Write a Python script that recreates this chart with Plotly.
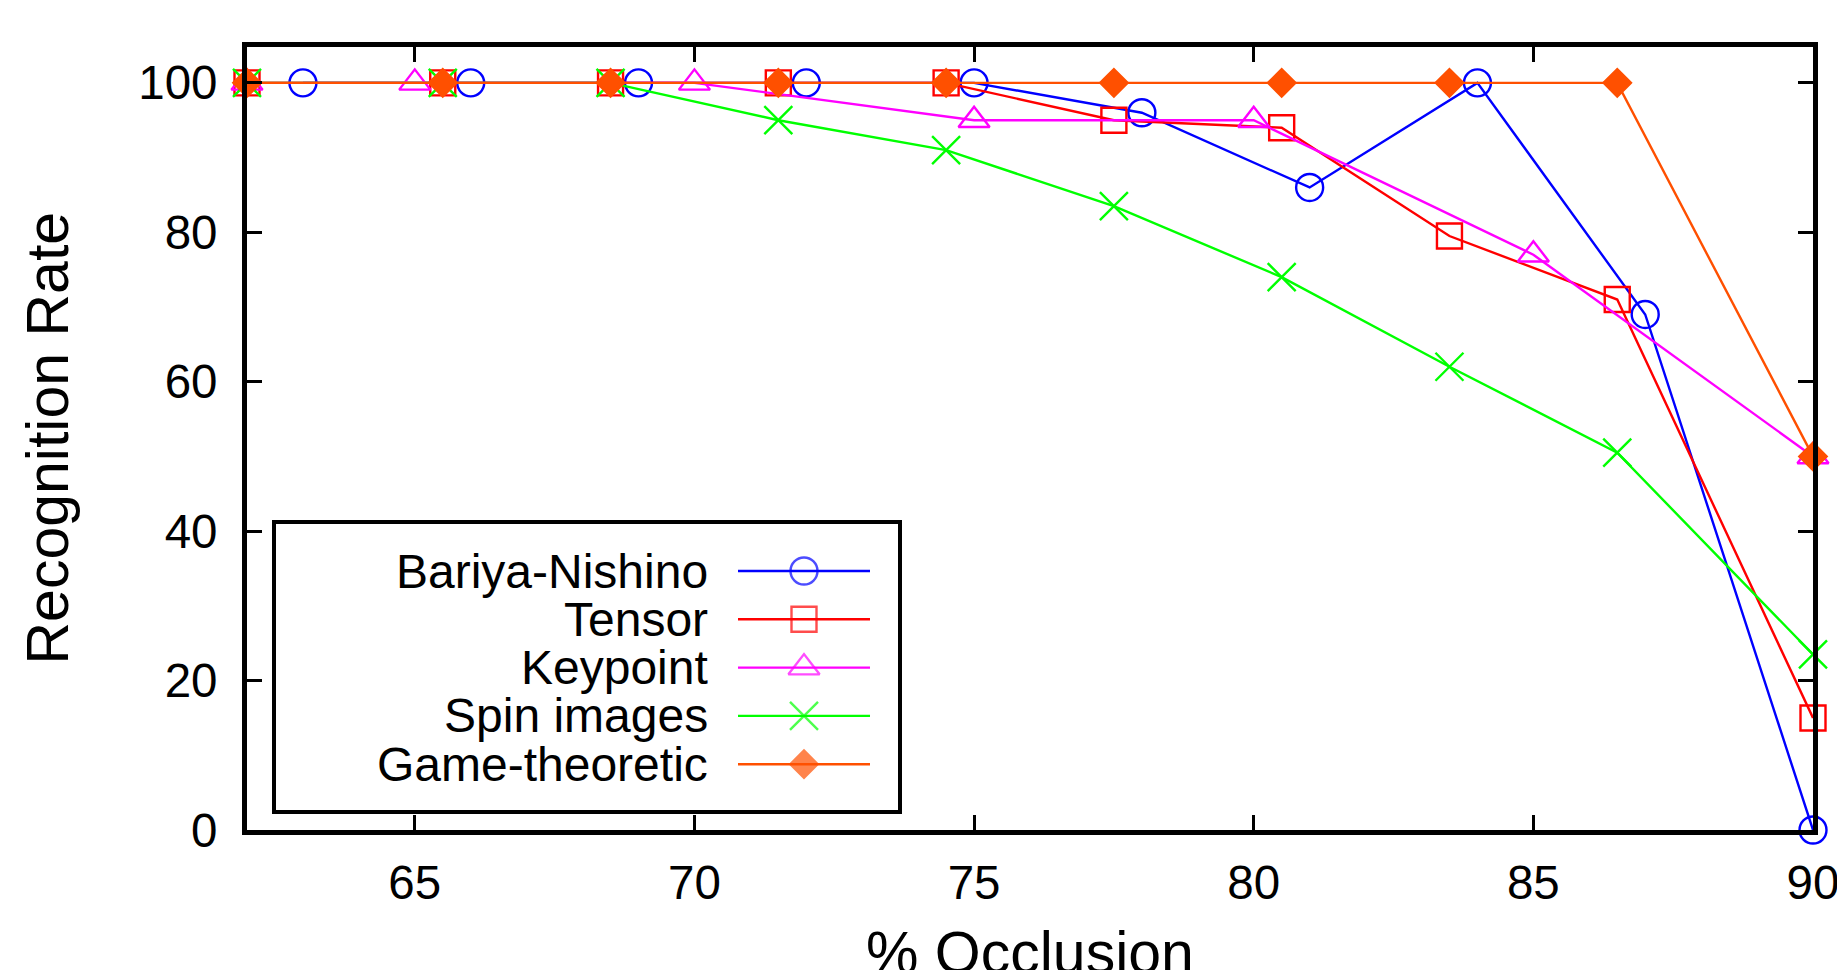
import plotly.graph_objects as go

# ---------------- data ----------------
series_names = ["Bariya-Nishino", "Tensor", "Keypoint", "Spin images", "Game-theoretic"]

x_bariya = [63, 66, 69, 72, 75, 78, 81, 84, 87, 90]
y_bariya = [100, 100, 100, 100, 100, 96, 86, 100, 69, 0]

x_tensor = [62, 65.5, 68.5, 71.5, 74.5, 77.5, 80.5, 83.5, 86.5, 90]
y_tensor = [100, 100, 100, 100, 100, 95, 94, 79.5, 71, 15]

x_keypoint = [62, 65, 70, 75, 80, 85, 90]
y_keypoint = [100, 100, 100, 95, 95, 77, 50]

x_spin = [62, 65.5, 68.5, 71.5, 74.5, 77.5, 80.5, 83.5, 86.5, 90]
y_spin = [100, 100, 100, 95, 91, 83.5, 74, 62, 50.5, 23.5]

x_game = [62, 65.5, 68.5, 71.5, 74.5, 77.5, 80.5, 83.5, 86.5, 90]
y_game = [100, 100, 100, 100, 100, 100, 100, 100, 100, 50]

x_ticks = [65, 70, 75, 80, 85, 90]
y_ticks = [0, 20, 40, 60, 80, 100]

x_title = "% Occlusion"
y_title = "Recognition Rate"

# ---------------- styles ----------------
colors = ["#0000ff", "#ff0000", "#ff00ff", "#00ff00", "#ff5000"]
symbols = ["circle-open", "square-open", "triangle-up-open", "x-thin-open", "diamond"]
sizes = [27, 25, 27, 28, 21]

FONT = "Liberation Sans, Arial, Helvetica, sans-serif"
# page body has an 8px margin; figure sized so it fits the 1845x970 window
OFF = 8
W, H = 1845 - OFF, 970 - OFF
LW = 5
# plot area in window pixels
PL, PR, PT, PB = 247, 1813, 47, 830


def px_x(p):
    return (p - PL) / (PR - PL)


def px_y(p):
    return (PB - p) / (PB - PT)


xs = [x_bariya, x_tensor, x_keypoint, x_spin, x_game]
ys = [y_bariya, y_tensor, y_keypoint, y_spin, y_game]

fig = go.Figure()
for name, x, y, c, s, sz in zip(series_names, xs, ys, colors, symbols, sizes):
    fig.add_trace(go.Scatter(
        x=x, y=y, name=name, mode="lines+markers",
        line=dict(color=c, width=2.4),
        marker=dict(symbol=s, size=sz, color=c, line=dict(color=c, width=2.4)),
        cliponaxis=False, showlegend=False,
    ))

# ---------------- custom legend (text left, sample right) ----------------
leg_box = (274, 522, 900, 812)
row_y0, row_dy = 571, 48.3
text_right = 710
samp_x0, samp_x1 = 738, 870

fig.add_shape(type="rect", xref="paper", yref="paper",
              x0=px_x(leg_box[0]), y0=px_y(leg_box[1]), x1=px_x(leg_box[2]), y1=px_y(leg_box[3]),
              line=dict(color="black", width=4), fillcolor="white", layer="below")

for i, (name, c, s, sz) in enumerate(zip(series_names, colors, symbols, sizes)):
    yy = row_y0 + i * row_dy
    xm = (samp_x0 + samp_x1) / 2
    fig.add_trace(go.Scatter(
        x=[samp_x0, xm, samp_x1], y=[yy, yy, yy], xaxis="x2", yaxis="y2",
        mode="lines+markers", line=dict(color=c, width=2.4),
        marker=dict(symbol=s, size=[0, sz, 0], color=c, line=dict(color=c, width=2.4)),
        cliponaxis=False, showlegend=False, hoverinfo="skip",
    ))
    fig.add_annotation(x=px_x(text_right), y=px_y(yy), xref="paper", yref="paper", text=name,
                       showarrow=False, xanchor="right", yanchor="middle",
                       font=dict(family=FONT, size=48, color="black"))

# axis titles (the x title runs off the bottom edge, as in the reference)
fig.add_annotation(x=px_x((PL + PR) / 2), y=px_y(918), xref="paper", yref="paper", text=x_title,
                   showarrow=False, xanchor="center", yanchor="top",
                   font=dict(family=FONT, size=59, color="black"))
fig.add_annotation(x=px_x(47), y=px_y((PT + PB) / 2), xref="paper", yref="paper", text=y_title,
                   showarrow=False, xanchor="center", yanchor="middle", textangle=-90,
                   font=dict(family=FONT, size=59, color="black"))

axis_common = dict(
    showgrid=False, zeroline=False, showline=True, linecolor="black", linewidth=LW,
    mirror="ticks", ticks="inside", ticklen=15, tickwidth=3, tickcolor="black",
    tickfont=dict(family=FONT, size=47.5, color="black"), automargin=False,
)

fig.update_layout(
    width=W, height=H, template="none",
    paper_bgcolor="white", plot_bgcolor="white",
    margin=dict(l=PL - OFF, r=W - (PR - OFF), t=PT - OFF, b=H - (PB - OFF)),
    font=dict(family=FONT, color="black"),
    showlegend=False,
    xaxis=dict(range=[62, 90], tickvals=x_ticks, ticklabelstandoff=7, **axis_common),
    yaxis=dict(range=[0, 104.8], tickvals=y_ticks, ticklabelstandoff=15, **axis_common),
    xaxis2=dict(overlaying="x", anchor="y2", range=[PL, PR], visible=False, fixedrange=True),
    yaxis2=dict(overlaying="y", anchor="x2", range=[PB, PT], visible=False, fixedrange=True),
)

fig.write_html("out.html")
